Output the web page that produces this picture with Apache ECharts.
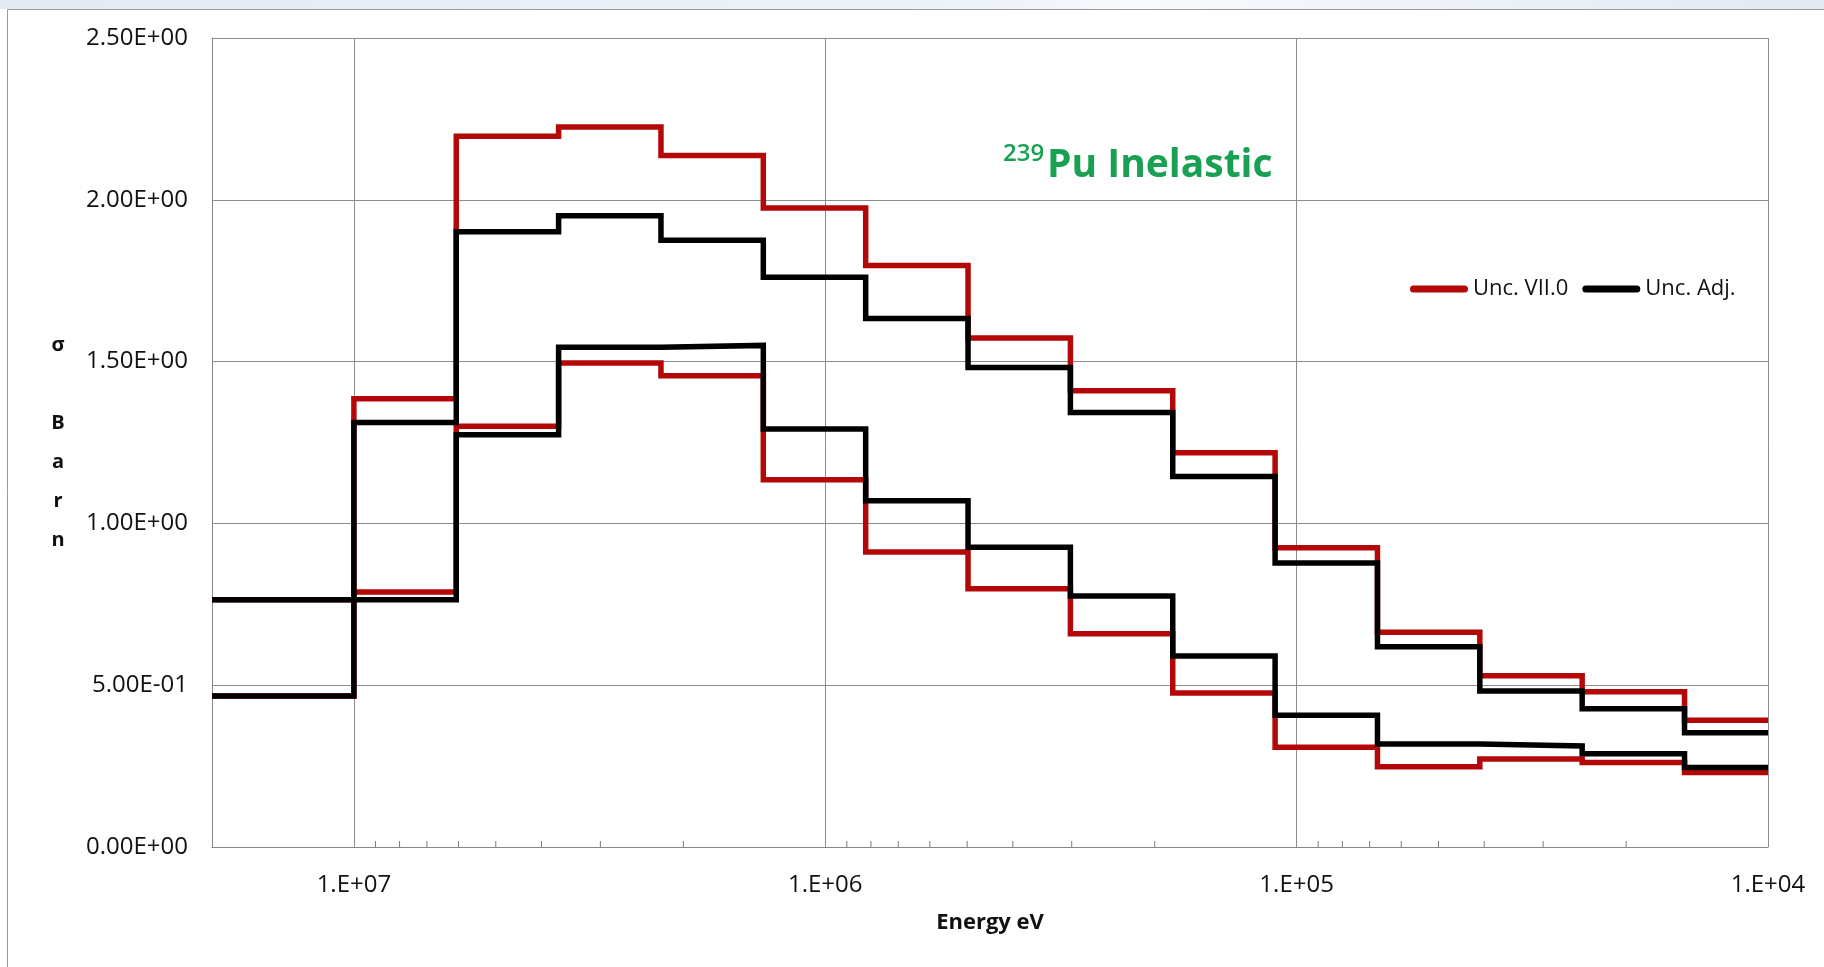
<!DOCTYPE html>
<html>
<head>
<meta charset="utf-8">
<title>239Pu Inelastic</title>
<script src="https://cdn.jsdelivr.net/npm/echarts@6/dist/echarts.min.js"></script>
<style>
  html, body { margin: 0; padding: 0; background: #ffffff; overflow: hidden; }
  #chart { width: 1824px; height: 967px; }
</style>
</head>
<body>
<div id="chart"></div>
<script>
// Energy group boundaries in eV, highest energy first
const GROUP_BOUNDS = [2.0e7, 1.0e7, 6.0653e6, 3.6788e6, 2.2313e6, 1.3534e6, 8.2085e5, 4.9787e5,
                      3.0197e5, 1.8316e5, 1.1109e5, 6.7379e4, 4.0868e4, 2.4788e4, 1.5034e4, 1.0e4];

// Cross-section band limits per group (barn)
const VII0_UPPER = [0.764, 1.385, 2.196, 2.225, 2.137, 1.975, 1.797, 1.573, 1.410, 1.218, 0.925, 0.664, 0.529, 0.480, 0.392];
const VII0_LOWER = [0.467, 0.788, 1.300, 1.496, 1.456, 1.135, 0.912, 0.798, 0.659, 0.476, 0.308, 0.248, 0.272, 0.261, 0.230];
const ADJ_UPPER  = [0.764, 1.312, 1.901, 1.951, 1.875, 1.761, 1.633, 1.482, 1.343, 1.145, 0.878, 0.619, 0.482, 0.427, 0.353];
const ADJ_LOWER  = [0.467, 0.764, 1.274, 1.544, 1.550, 1.292, 1.070, 0.926, 0.776, 0.590, 0.407, 0.318, 0.312, 0.288, 0.246];

// Axis ticks and their labels
const X_TICKS = [1e7, 1e6, 1e5, 1e4];
const X_TICK_LABELS = ['1.E+07', '1.E+06', '1.E+05', '1.E+04'];
const X_MINOR_TICKS = [9e6, 8e6, 7e6, 6e6, 5e6, 4e6, 3e6, 2e6,
                       9e5, 8e5, 7e5, 6e5, 5e5, 4e5, 3e5, 2e5,
                       9e4, 8e4, 7e4, 6e4, 5e4, 4e4, 3e4, 2e4];
const Y_TICKS = [0, 0.5, 1.0, 1.5, 2.0, 2.5];
const Y_TICK_LABELS = ['0.00E+00', '5.00E-01', '1.00E+00', '1.50E+00', '2.00E+00', '2.50E+00'];

const SERIES_NAMES = ['Unc. VII.0', 'Unc. Adj.'];
const RED = '#b40808';
const BLACK = '#000000';
const GREEN = '#1aa052';
const GRID_GRAY = '#8c8c8c';
const FONT = '"Open Sans", "Liberation Sans", sans-serif';

// One point per group start plus the closing boundary, drawn as a step line
function stepData(values) {
  const pts = values.map((v, i) => [GROUP_BOUNDS[i], v]);
  pts.push([GROUP_BOUNDS[values.length], values[values.length - 1]]);
  return pts;
}

function xLabel(v) {
  for (let i = 0; i < X_TICKS.length; i++) {
    if (Math.abs(Math.log10(X_TICKS[i]) - Math.log10(v)) < 1e-6) return X_TICK_LABELS[i];
  }
  return '';
}

function yLabel(v) {
  for (let i = 0; i < Y_TICKS.length; i++) {
    if (Math.abs(Y_TICKS[i] - v) < 1e-9) return Y_TICK_LABELS[i];
  }
  return '';
}

function bandSeries(name, values, color) {
  return {
    name: name,
    type: 'line',
    step: 'end',
    symbol: 'none',
    data: stepData(values),
    lineStyle: { color: color, width: 5.5, join: 'miter', cap: 'butt' },
    itemStyle: { color: color },
    emphasis: { disabled: true },
    z: 3
  };
}

const chart = echarts.init(document.getElementById('chart'), null, { renderer: 'canvas' });

chart.setOption({
  animation: false,
  backgroundColor: '#ffffff',
  grid: { left: 212, right: 56, top: 38, bottom: 120, containLabel: false },
  legend: {
    data: SERIES_NAMES,
    left: 1405,
    top: 273,
    itemWidth: 58,
    itemHeight: 7,
    itemGap: 14,
    icon: 'path://M3.5,0 L54.5,0 A3.5,3.5 0 0 1 54.5,7 L3.5,7 A3.5,3.5 0 0 1 3.5,0 Z',
    textStyle: { fontFamily: FONT, fontSize: 22, color: '#111111' },
    selectedMode: false
  },
  xAxis: {
    type: 'log',
    logBase: 10,
    inverse: true,
    min: 1e4,
    max: 2e7,
    name: 'Energy eV',
    nameLocation: 'middle',
    nameGap: 76,
    nameTextStyle: { fontFamily: FONT, fontSize: 22, fontWeight: 'bold', color: '#111111', verticalAlign: 'middle' },
    axisLine: { show: true, lineStyle: { color: '#868686', width: 1 } },
    axisTick: { show: false },
    minorTick: { show: false },
    axisLabel: { formatter: xLabel, margin: 26, fontFamily: FONT, fontSize: 24, color: '#111111' },
    splitLine: { show: true, lineStyle: { color: GRID_GRAY, width: 1 } }
  },
  yAxis: {
    type: 'value',
    min: 0,
    max: 2.5,
    interval: 0.5,
    name: 'σ\n\nB\na\nr\nn',
    nameLocation: 'middle',
    nameRotate: 0,
    nameGap: 154,
    nameTextStyle: {
      fontFamily: FONT, fontSize: 20, fontWeight: 'bold', color: '#111111',
      lineHeight: 39, align: 'center', verticalAlign: 'middle', padding: [8, 0, 0, 0]
    },
    axisLine: { show: true, lineStyle: { color: '#868686', width: 1 } },
    axisTick: { show: false },
    axisLabel: { formatter: yLabel, margin: 24, fontFamily: FONT, fontSize: 24, color: '#111111' },
    splitLine: { show: true, lineStyle: { color: GRID_GRAY, width: 1 } }
  },
  graphic: [
    // window strip and frame around the chart
    {
      type: 'rect', silent: true, z: 0,
      shape: { x: 0, y: 0, width: 1824, height: 9 },
      style: {
        fill: new echarts.graphic.LinearGradient(0, 0, 1, 0, [
          { offset: 0, color: '#e3eaf3' },
          { offset: 0.55, color: '#eef3f9' },
          { offset: 0.62, color: '#f8fafd' },
          { offset: 1, color: '#e1e9f2' }
        ])
      }
    },
    {
      type: 'line', silent: true, z: 0,
      shape: { x1: 7.5, y1: 9.5, x2: 1824, y2: 9.5 },
      style: { stroke: '#9a9a9a', lineWidth: 1 }
    },
    {
      type: 'line', silent: true, z: 0,
      shape: { x1: 7.5, y1: 9.5, x2: 7.5, y2: 967 },
      style: { stroke: '#9a9a9a', lineWidth: 1 }
    },
    // chart title with mass number superscript
    {
      type: 'text', left: 1003, top: 142, z: 10,
      style: { text: '239', font: '600 24px ' + FONT, fill: GREEN }
    },
    {
      type: 'text', left: 1047, top: 146, z: 10,
      style: { text: 'Pu Inelastic', font: 'bold 39px ' + FONT, fill: GREEN }
    }
  ],
  series: [
    bandSeries(SERIES_NAMES[0], VII0_UPPER, RED),
    bandSeries(SERIES_NAMES[0], VII0_LOWER, RED),
    bandSeries(SERIES_NAMES[1], ADJ_UPPER, BLACK),
    bandSeries(SERIES_NAMES[1], ADJ_LOWER, BLACK),
    {
      // minor ticks at 2..9 of each decade, pointing into the plot
      type: 'custom',
      silent: true,
      clip: false,
      z: 2,
      data: X_MINOR_TICKS.map(v => [v, 0]),
      encode: { x: 0, y: 1 },
      renderItem: function (params, api) {
        const p = api.coord([api.value(0), api.value(1)]);
        return {
          type: 'line',
          shape: { x1: p[0], y1: p[1], x2: p[0], y2: p[1] - 6 },
          style: { stroke: '#7a7a7a', lineWidth: 1 }
        };
      }
    }
  ]
});
</script>
</body>
</html>
